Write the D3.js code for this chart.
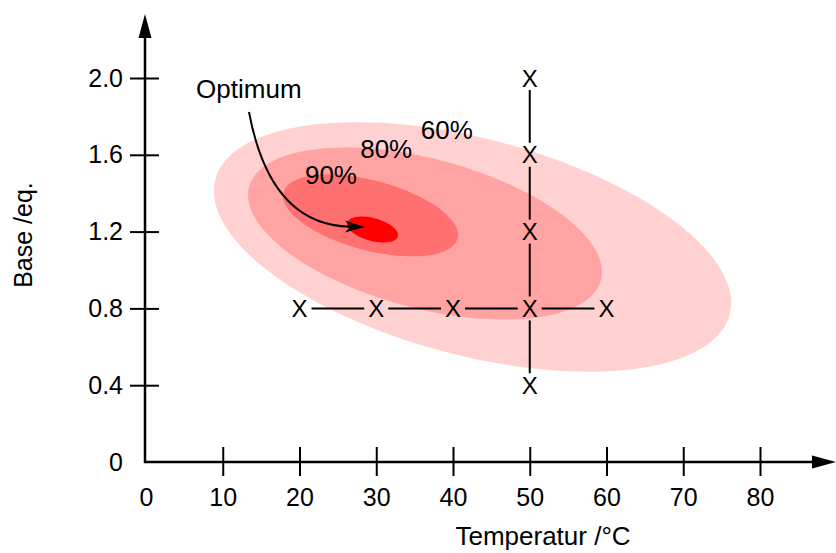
<!DOCTYPE html>
<html><head><meta charset="utf-8">
<script src="https://cdn.jsdelivr.net/npm/d3@7"></script>
<style>
body{margin:0;background:#fff}
svg{display:block}
text{font-family:"Liberation Sans",Arial,Helvetica,sans-serif;fill:#000}
</style>
</head><body>
<svg id="chart" width="836" height="553"></svg>
<script>
// ---- data ----
const xTicks = [0, 10, 20, 30, 40, 50, 60, 70, 80];
const yTicks = [0, 0.4, 0.8, 1.2, 1.6, 2.0];

// yield contours (outer to inner): center and two conjugate semi-axis vectors, in data units
const contourNames   = ["60%", "80%", "90%", "Optimum"];
const contourCenterT = [42.54, 36.35, 29.25, 29.51];
const contourCenterB = [1.120, 1.190, 1.284, 1.211];
const contourMajorT  = [33.5, 22.92, 11.34, 3.30];
const contourMajorB  = [-0.352, -0.2427, -0.120, -0.0356];
const contourMinorT  = [-3.59, -2.49, -1.17, -0.387];
const contourMinorB  = [-0.546, -0.3766, -0.176, -0.0573];

// contour labels
const levelLabels = ["60%", "80%", "90%"];
const levelLabelT = [39.2, 31.3, 24.1];
const levelLabelB = [1.682, 1.581, 1.448];

// one-factor-at-a-time experiments
const hSeriesT = [20, 30, 40, 50, 60];   // at base 0.8
const hSeriesB = [0.8, 0.8, 0.8, 0.8, 0.8];
const vSeriesT = [50, 50, 50, 50, 50];   // at temperature 50
const vSeriesB = [0.4, 0.8, 1.2, 1.6, 2.0];

// optimum annotation: label and arrow (start, control, tip)
const optimumLabel = "Optimum";
const optimumLabelT = 13.4, optimumLabelB = 1.896;
const arrowT = [13.42, 16.16, 28.53];
const arrowB = [1.823, 1.234, 1.224];

const xTitle = "Temperatur /°C";
const yTitle = "Base /eq.";

// ---- drawing ----
const contourFill = ["#ffd1d1", "#ffa3a3", "#ff7070", "#ff0000"];
const FS_TICK = 25, FS_LABEL = 26, FS_X = 24;
const svg = d3.select("#chart");
const x = d3.scaleLinear().domain([0, 80]).range([146, 760]);
const y = d3.scaleLinear().domain([0, 2]).range([462, 78]);

// contours
const ell = contourNames.map((n, i) => d3.range(0, 360, 3).map(a => {
  const t = a * Math.PI / 180;
  return [x(contourCenterT[i] + Math.cos(t) * contourMajorT[i] + Math.sin(t) * contourMinorT[i]),
          y(contourCenterB[i] + Math.cos(t) * contourMajorB[i] + Math.sin(t) * contourMinorB[i])];
}));
svg.append("g").selectAll("path").data(ell).join("path")
  .attr("d", d => d3.line().curve(d3.curveCardinalClosed)(d))
  .attr("fill", (d, i) => contourFill[i]);

// axes
const yAxis = d3.axisLeft(y).tickValues(yTicks).tickSizeInner(15).tickSizeOuter(0).tickPadding(7)
  .tickFormat(d => d === 0 ? "0" : d.toFixed(1));
const gy = svg.append("g").attr("transform", `translate(145,0)`).call(yAxis);
gy.select(".domain").remove();
gy.selectAll(".tick line").attr("x1", 14).attr("stroke-width", 2);
gy.selectAll(".tick line").filter(d => d === 0).remove();
gy.selectAll(".tick text").attr("font-size", FS_TICK).attr("font-family", null);

const xAxis = d3.axisBottom(x).tickValues(xTicks).tickSizeInner(14).tickSizeOuter(0).tickPadding(12);
const gx = svg.append("g").attr("transform", `translate(0,462)`).call(xAxis);
gx.select(".domain").remove();
gx.selectAll(".tick line").attr("y1", -15).attr("stroke-width", 2);
gx.selectAll(".tick line").filter(d => d === 0).remove();
gx.selectAll(".tick text").attr("font-size", FS_TICK).attr("font-family", null);

// axis lines with arrows
svg.append("line").attr("x1", 145).attr("y1", 463).attr("x2", 145).attr("y2", 30)
  .attr("stroke", "#000").attr("stroke-width", 2.5);
svg.append("path").attr("d", "M145,14 L151.5,38 L138.5,38 Z").attr("fill", "#000");
svg.append("line").attr("x1", 144).attr("y1", 462).attr("x2", 820).attr("y2", 462)
  .attr("stroke", "#000").attr("stroke-width", 2.5);
svg.append("path").attr("d", "M836,462 L812,468.5 L812,455.5 Z").attr("fill", "#000");

// axis titles
svg.append("text").attr("x", 543).attr("y", 545).attr("text-anchor", "middle")
  .attr("font-size", FS_LABEL).text(xTitle);
svg.append("text").attr("transform", "translate(32,235) rotate(-90)").attr("text-anchor", "middle")
  .attr("font-size", 25).text(yTitle);

// connecting lines with gaps around the X markers
function connect(T, B) {
  const segs = [];
  for (let i = 0; i < T.length - 1; i++) {
    const x0 = x(T[i]), y0 = y(B[i]), x1 = x(T[i + 1]), y1 = y(B[i + 1]);
    const L = Math.hypot(x1 - x0, y1 - y0), g = 12;
    const ux = (x1 - x0) / L, uy = (y1 - y0) / L;
    segs.push([x0 + ux * g, y0 + uy * g, x1 - ux * g, y1 - uy * g]);
  }
  svg.append("g").selectAll("line").data(segs).join("line")
    .attr("x1", d => d[0]).attr("y1", d => d[1]).attr("x2", d => d[2]).attr("y2", d => d[3])
    .attr("stroke", "#000").attr("stroke-width", 2);
}
connect(hSeriesT, hSeriesB);
connect(vSeriesT, vSeriesB);

// unique experiment points (the shared center point drawn once)
const allPts = hSeriesT.map((t, i) => [t, hSeriesB[i]]).concat(vSeriesT.map((t, i) => [t, vSeriesB[i]]));
const pts = allPts.filter((p, i) => allPts.findIndex(q => q[0] === p[0] && q[1] === p[1]) === i);
svg.append("g").selectAll("text").data(pts).join("text")
  .attr("x", d => x(d[0])).attr("y", d => y(d[1])).attr("dy", "0.36em")
  .attr("text-anchor", "middle").attr("font-size", FS_X).text("X");

// contour labels
svg.append("g").selectAll("text").data(levelLabels).join("text")
  .attr("x", (d, i) => x(levelLabelT[i])).attr("y", (d, i) => y(levelLabelB[i]))
  .attr("text-anchor", "middle").attr("font-size", FS_LABEL).text(d => d);

// optimum label and arrow
svg.append("text").attr("x", x(optimumLabelT)).attr("y", y(optimumLabelB))
  .attr("text-anchor", "middle").attr("font-size", FS_LABEL).text(optimumLabel);
const p0 = [x(arrowT[0]), y(arrowB[0])], p1 = [x(arrowT[1]), y(arrowB[1])], p2 = [x(arrowT[2]), y(arrowB[2])];
const ang = Math.atan2(p2[1] - p1[1], p2[0] - p1[0]);
const hl = 20;
const back = [p2[0] - Math.cos(ang) * hl * 0.75, p2[1] - Math.sin(ang) * hl * 0.75];
svg.append("path")
  .attr("d", `M${p0[0]},${p0[1]} Q${p1[0]},${p1[1]} ${back[0]},${back[1]}`)
  .attr("fill", "none").attr("stroke", "#000").attr("stroke-width", 2);
const rot = ang * 180 / Math.PI;
svg.append("path")
  .attr("transform", `translate(${p2[0]},${p2[1]}) rotate(${rot})`)
  .attr("d", `M0,0 L${-hl},${-6} L${-hl * 0.72},0 L${-hl},6 Z`).attr("fill", "#000");
</script>
</body></html>
